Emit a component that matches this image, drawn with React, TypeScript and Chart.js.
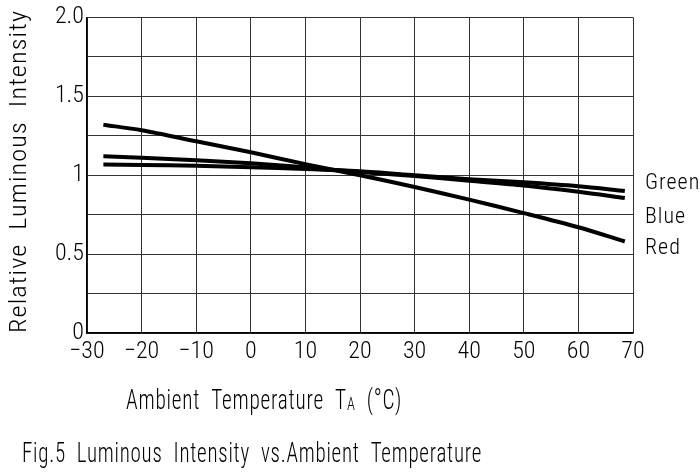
import React, { useEffect, useRef } from "react";
import { Chart, registerables } from "chart.js";

Chart.register(...registerables);

const temps = [-27, -20, -10, 0, 10, 20, 30, 40, 50, 60, 68.5];
const redValues = [1.32, 1.285, 1.215, 1.145, 1.07, 1.0, 0.925, 0.845, 0.76, 0.67, 0.58];
const blueValues = [1.12, 1.11, 1.095, 1.075, 1.05, 1.02, 0.995, 0.965, 0.935, 0.895, 0.855];
const greenValues = [1.068, 1.065, 1.06, 1.05, 1.04, 1.025, 1.0, 0.975, 0.955, 0.93, 0.9];

const seriesNames = ["Green", "Blue", "Red"];
const seriesLabelValues = [0.945, 0.735, 0.535];
const yTickLabels: Record<string, string> = { "0": "0", "0.5": "0.5", "1": "1", "1.5": "1.5", "2": "2.0" };

const xTitleMain = "Ambient  Temperature  T";
const xTitleSub = "A";
const xTitleEnd = "  (°C)";
const caption = "Fig.5  Luminous  Intensity  vs.Ambient  Temperature";
const yTitle = "Relative  Luminous  Intensity";

const FAMILY = "Roboto, 'DejaVu Sans Condensed', sans-serif";
const W = "300 condensed";
const f = (size: number) => `${W} ${size}px ${FAMILY}`;

const textPlugin = {
  id: "extraText",
  afterDraw(chart: any) {
    const ctx = chart.ctx;
    const x = chart.scales.x;
    const y = chart.scales.y;
    ctx.save();
    ctx.fillStyle = "#000";
    ctx.textBaseline = "middle";
    ctx.textAlign = "left";
    (ctx as any).letterSpacing = "1px";
    // series labels
    ctx.font = f(22);
    seriesNames.forEach((n, i) => {
      ctx.fillText(n, x.right + 12, y.getPixelForValue(seriesLabelValues[i]));
    });

    // x title, fitted to span 126..402
    const big = f(28);
    const small = f(19);
    ctx.font = big;
    const w1 = ctx.measureText(xTitleMain).width;
    const w3 = ctx.measureText(xTitleEnd).width;
    ctx.font = small;
    const w2 = ctx.measureText(xTitleSub).width;
    const total = w1 + w2 + w3;
    ctx.save();
    ctx.translate(126, 402);
    ctx.scale((402 - 126) / total, 1);
    ctx.font = big;
    ctx.fillText(xTitleMain, 0, 0);
    ctx.font = small;
    ctx.fillText(xTitleSub, w1, 3);
    ctx.font = big;
    ctx.fillText(xTitleEnd, w1 + w2, 0);
    ctx.restore();

    // caption fitted to 22..482
    ctx.font = f(28);
    const wc = ctx.measureText(caption).width;
    ctx.save();
    ctx.translate(22, 455);
    ctx.scale((482 - 22) / wc, 1);
    ctx.fillText(caption, 0, 0);
    ctx.restore();

    // y title rotated, spanning y 333..10
    ctx.font = f(24);
    const wy = ctx.measureText(yTitle).width;
    ctx.save();
    ctx.translate(20, 333);
    ctx.rotate(-Math.PI / 2);
    ctx.scale((333 - 10) / wy, 1);
    ctx.fillText(yTitle, 0, 0);
    ctx.restore();

    ctx.restore();
  },
};

export default function App() {
  const ref = useRef<HTMLCanvasElement>(null);
  useEffect(() => {
    document.body.style.margin = "0";
    const ds = (label: string, vals: number[]) => ({
      label,
      data: temps.map((t, i) => ({ x: t, y: vals[i] })),
      borderColor: "#000",
      borderWidth: 4,
      pointRadius: 0,
      tension: 0.3,
      fill: false,
    });
    const tickFont = { family: FAMILY, size: 24, weight: W as any };
    const chart = new Chart(ref.current!, {
      type: "line",
      data: {
        datasets: [ds("Green", greenValues), ds("Blue", blueValues), ds("Red", redValues)],
      },
      options: {
        animation: false,
        responsive: false,
        layout: { padding: { top: 16, right: 67, left: 0, bottom: 0 } },
        plugins: { legend: { display: false }, tooltip: { enabled: false } },
        scales: {
          x: {
            type: "linear",
            min: -30,
            max: 70,
            afterFit: (s: any) => { s.height = 142; },
            grid: { color: "#333", lineWidth: 1, drawTicks: false },
            border: { color: "#000", width: 1.5 },
            ticks: {
              stepSize: 10,
              padding: 5,
              color: "#000",
              font: tickFont,
              callback: (v: any) => (v < 0 ? "\u2212" + Math.abs(v) : String(v)),
            },
          },
          y: {
            type: "linear",
            min: 0,
            max: 2,
            afterFit: (s: any) => { s.width = 87; },
            grid: { color: "#333", lineWidth: 1, drawTicks: false },
            border: { color: "#000", width: 1.5 },
            ticks: {
              stepSize: 0.25,
              padding: 3,
              color: "#000",
              font: tickFont,
              callback: (v: any) => yTickLabels[String(v)] ?? "",
            },
          },
        },
      },
      plugins: [textPlugin],
    });
    return () => chart.destroy();
  }, []);
  return (
    <div style={{ position: "absolute", left: 0, top: 0, width: 700, height: 475, background: "#fff" }}>
      <canvas ref={ref} width={700} height={475} />
    </div>
  );
}
